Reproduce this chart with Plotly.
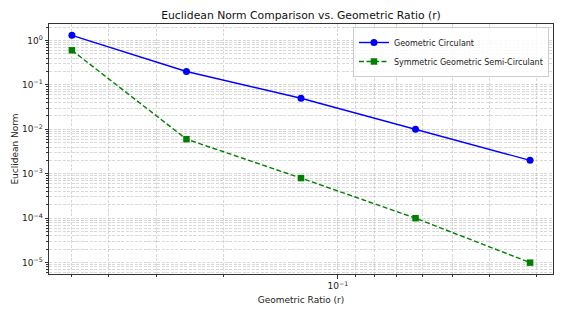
import math
import plotly.graph_objects as go

# Data
ratios = [0.5, 0.25, 0.125, 0.0625, 0.03125]
geometric_circulant = [1.3, 0.2, 0.05, 0.01, 0.002]
symmetric_semi_circulant = [0.6, 0.006, 0.0008, 0.0001, 0.00001]
series_names = ["Geometric Circulant", "Symmetric Geometric Semi-Circulant"]

x_major_vals = [0.1]
x_major_text = ["10<sup>−1</sup>"]
y_major_exps = [0, -1, -2, -3, -4, -5]
y_major_vals = [10.0 ** e for e in y_major_exps]
y_major_text = ["10<sup>%s</sup>" % (str(e).replace("-", "−")) for e in y_major_exps]

title_text = "Euclidean Norm Comparison vs. Geometric Ratio (r)"
x_title = "Geometric Ratio (r)"
y_title = "Euclidean Norm"

def minor_vals(lo_exp, hi_exp):
    return [d * 10.0 ** e for e in range(lo_exp, hi_exp + 1) for d in range(2, 10)]

FONT = "DejaVu Sans"
grid_color = "rgba(190,190,190,0.6)"
grid_dash = "3px,1.5px"

fig = go.Figure()
fig.add_trace(go.Scatter(
    x=ratios, y=geometric_circulant, name=series_names[0],
    mode="lines+markers",
    line=dict(color="#0000ff", width=1.4),
    marker=dict(symbol="circle", size=7, color="#0000ff"),
))
fig.add_trace(go.Scatter(
    x=ratios, y=symmetric_semi_circulant, name=series_names[1],
    mode="lines+markers",
    line=dict(color="#008000", width=1.4, dash="5px,2.5px"),
    marker=dict(symbol="square", size=6.5, color="#008000"),
))

# log ranges with 5% margins (matplotlib style)
xlo, xhi = math.log10(min(ratios)), math.log10(max(ratios))
xm = 0.05 * (xhi - xlo)
all_y = geometric_circulant + symmetric_semi_circulant
ylo, yhi = math.log10(min(all_y)), math.log10(max(all_y))
ym = 0.05 * (yhi - ylo)

axis_common = dict(
    type="log", automargin=False,
    showline=True, mirror=True, linecolor="#333333", linewidth=1,
    ticks="outside", ticklen=3.5, tickwidth=0.8, tickcolor="#333333",
    showgrid=True, gridcolor=grid_color, griddash=grid_dash, gridwidth=0.7,
    zeroline=False,
    tickfont=dict(family=FONT, size=9, color="#222222"),
)

minor_common = dict(tickmode="array", ticks="outside",
                    ticklen=2, tickwidth=0.6, tickcolor="#333333",
                    showgrid=True, gridcolor=grid_color, griddash=grid_dash, gridwidth=0.6)

fig.update_xaxes(
    **axis_common,
    range=[xhi + xm, xlo - xm],
    tickmode="array", tickvals=x_major_vals, ticktext=x_major_text,
    minor=dict(tickvals=minor_vals(-2, -1), **minor_common),
    title=dict(text=x_title, font=dict(family=FONT, size=9, color="#222222"), standoff=6),
)
fig.update_yaxes(
    **axis_common,
    range=[ylo - ym, yhi + ym],
    tickmode="array", tickvals=y_major_vals, ticktext=y_major_text,
    minor=dict(tickvals=minor_vals(-6, 0), **minor_common),
    title=dict(text=y_title, font=dict(family=FONT, size=9, color="#222222"), standoff=1),
)

fig.update_layout(
    width=561, height=310,
    margin=dict(l=49, r=8, t=24, b=36),
    paper_bgcolor="white", plot_bgcolor="white",
    font=dict(family=FONT, size=9, color="#222222"),
    title=dict(text=title_text, x=0.5, xref="paper", y=1 - 15 / 310, yref="container",
               xanchor="center", yanchor="middle", automargin=False,
               font=dict(family=FONT, size=10.8, color="#111111")),
    legend=dict(x=0.992, y=0.988, xanchor="right", yanchor="top",
                bgcolor="rgba(255,255,255,0.85)", bordercolor="#cccccc", borderwidth=1,
                font=dict(family=FONT, size=8, color="#222222"),
                itemwidth=30, tracegroupgap=0),
    showlegend=True,
)

fig.write_html("out.html", config={"displayModeBar": False},
               post_script="document.body.style.margin='0px';document.body.style.overflow='hidden';")
